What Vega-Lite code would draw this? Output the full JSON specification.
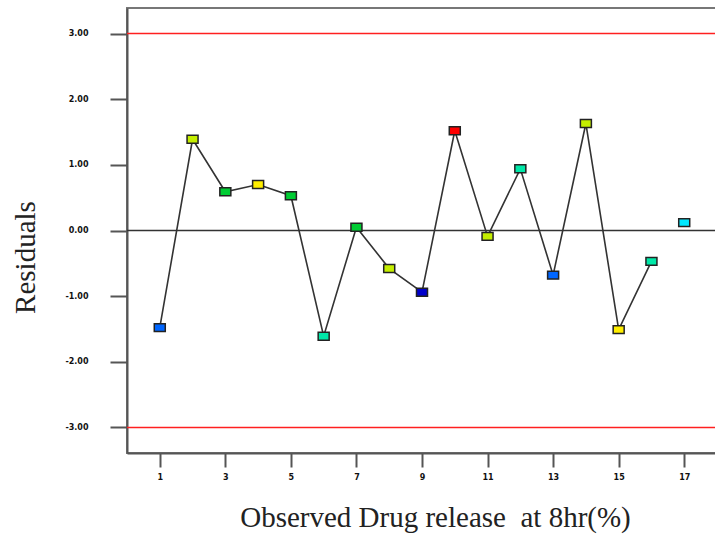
{
  "$schema": "https://vega.github.io/schema/vega-lite/v6.json",
  "width": 590,
  "height": 445,
  "autosize": "none",
  "padding": {"left": 127, "top": 8, "right": 0, "bottom": 90},
  "background": "white",
  "config": {
    "view": {"stroke": "#777777", "strokeWidth": 2},
    "axis": {"grid": false, "labelFont": "DejaVu Sans", "labelFontWeight": "bold", "labelFontSize": 8, "labelColor": "#111111", "titleFont": "Liberation Serif", "titleFontWeight": "normal", "titleColor": "#222222", "domainColor": "#555555", "domainWidth": 2, "tickColor": "#555555", "tickWidth": 2}
  },
  "datasets": {
    "residuals": [
      {"run": 1, "residual": -1.48, "level": 2, "seg": "a"},
      {"run": 2, "residual": 1.39, "level": 6, "seg": "a"},
      {"run": 3, "residual": 0.59, "level": 5, "seg": "a"},
      {"run": 4, "residual": 0.70, "level": 7, "seg": "a"},
      {"run": 5, "residual": 0.53, "level": 5, "seg": "a"},
      {"run": 6, "residual": -1.61, "level": 4, "seg": "a"},
      {"run": 7, "residual": 0.05, "level": 5, "seg": "a"},
      {"run": 8, "residual": -0.58, "level": 6, "seg": "a"},
      {"run": 9, "residual": -0.94, "level": 1, "seg": "a"},
      {"run": 10, "residual": 1.52, "level": 8, "seg": "a"},
      {"run": 11, "residual": -0.09, "level": 6, "seg": "a"},
      {"run": 12, "residual": 0.94, "level": 4, "seg": "a"},
      {"run": 13, "residual": -0.68, "level": 2, "seg": "a"},
      {"run": 14, "residual": 1.63, "level": 6, "seg": "a"},
      {"run": 15, "residual": -1.51, "level": 7, "seg": "a"},
      {"run": 16, "residual": -0.47, "level": 4, "seg": "a"},
      {"run": 17, "residual": 0.12, "level": 3, "seg": "b"}
    ],
    "limits": [
      {"y": 3, "kind": "limit"},
      {"y": -3, "kind": "limit"},
      {"y": 0, "kind": "zero"}
    ]
  },
  "layer": [
    {
      "data": {"name": "limits"},
      "mark": {"type": "rule", "strokeWidth": 1.5},
      "encoding": {
        "y": {"field": "y", "type": "quantitative", "scale": {"domain": [-3.39, 3.39], "nice": false, "zero": false},
          "axis": {"title": "Residuals", "titleFontSize": 29, "titlePadding": 24, "titleY": 249, "values": [-3, -2, -1, 0, 1, 2, 3], "labelExpr": "replace(format(datum.value, '.2f'), '\u2212', '-')", "tickSize": 17, "labelPadding": 22}},
        "color": {"field": "kind", "type": "nominal", "scale": {"domain": ["limit", "zero"], "range": ["#ff2020", "#333333"]}, "legend": null}
      }
    },
    {
      "data": {"name": "residuals"},
      "mark": {"type": "line", "color": "#333333", "strokeWidth": 1.6},
      "encoding": {
        "x": {"field": "run", "type": "quantitative", "scale": {"domain": [0, 18], "nice": false, "zero": false},
          "axis": {"title": "Observed Drug release\u00a0 at 8hr(%)", "titleFontSize": 29, "titlePadding": 22, "titleX": 308,
            "values": [1, 2, 3, 4, 5, 6, 7, 8, 9, 10, 11, 12, 13, 14, 15, 16, 17],
            "labelExpr": "datum.value % 2 === 1 ? format(datum.value, 'd') : ''",
            "tickSize": {"condition": {"test": "datum.value % 2 === 0", "value": 6}, "value": 14},
            "labelPadding": 6}},
        "y": {"field": "residual", "type": "quantitative"},
        "detail": {"field": "seg", "type": "nominal"}
      }
    },
    {
      "data": {"name": "residuals"},
      "mark": {"type": "point", "shape": "M-1,-0.72L1,-0.72L1,0.72L-1,0.72Z", "size": 121, "filled": true, "stroke": "#222222", "strokeWidth": 1.5, "opacity": 1},
      "encoding": {
        "x": {"field": "run", "type": "quantitative"},
        "y": {"field": "residual", "type": "quantitative"},
        "fill": {"field": "level", "type": "ordinal", "scale": {"domain": [1, 2, 3, 4, 5, 6, 7, 8], "range": ["#0000cc", "#0066ff", "#00e8ff", "#00e8a8", "#00cc33", "#c4ee00", "#ffee00", "#ff0000"]}, "legend": null}
      }
    }
  ],
  "resolve": {"scale": {"color": "independent"}}
}
